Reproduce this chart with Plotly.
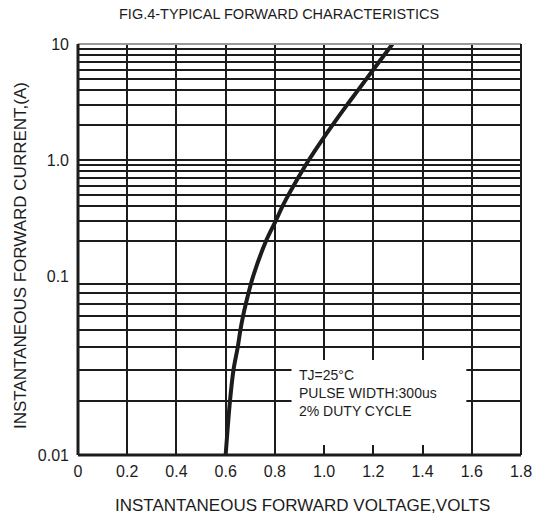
import plotly.graph_objects as go

# ---- data ----
voltage = [0.600, 0.6175, 0.632, 0.649, 0.660, 0.671, 0.682, 0.712,
           0.764, 0.804, 0.831, 0.855, 0.876, 0.894, 0.938, 0.993,
           1.034, 1.094, 1.138, 1.172, 1.223, 1.278]
current = [0.01, 0.02, 0.03, 0.04, 0.05, 0.06, 0.07, 0.10,
           0.20, 0.30, 0.40, 0.50, 0.60, 0.70, 1.00, 1.50,
           2.00, 3.00, 4.00, 5.00, 7.00, 10.0]

x_ticks = [0, 0.2, 0.4, 0.6, 0.8, 1.0, 1.2, 1.4, 1.6, 1.8]
x_tick_labels = ["0", "0.2", "0.4", "0.6", "0.8", "1.0", "1.2", "1.4", "1.6", "1.8"]

low_grid = [0.01, 0.02, 0.03, 0.04, 0.05, 0.06, 0.07, 0.08, 0.09, 0.1]
low_labels = ["0.01", "", "", "", "", "", "", "", "", "0.1"]
high_grid = [0.1, 0.2, 0.3, 0.4, 0.5, 0.6, 0.7, 0.8, 0.9,
             1, 2, 3, 4, 5, 6, 7, 8, 9, 10]
high_labels = ["", "", "", "", "", "", "", "", "",
               "1.0", "", "", "", "", "", "", "", "", "10"]

title_text = "FIG.4-TYPICAL FORWARD CHARACTERISTICS"
x_title = "INSTANTANEOUS FORWARD VOLTAGE,VOLTS"
y_title = "INSTANTANEOUS FORWARD CURRENT,(A)"
note_text = "TJ=25°C<br>PULSE WIDTH:300us<br>2% DUTY CYCLE"

FONT = "Liberation Sans, Arial, sans-serif"
INK = "#1c1c1c"

# The chart's lowest decade is drawn taller than the two above it, so the curve
# is split over two stacked log axes. Each part also carries the neighbouring
# point across the 0.1 A seam, re-expressed in its own axis scale (and clipped
# away), so the two spline pieces meet with the same tangent.
split = 179 / 411                      # share of height for the 0.01-0.1 decade
ratio = ((1 - split) / 2) / split      # upper-decade height / lower-decade height
seam = 0.1

lo_idx = [k for k, i in enumerate(current) if i <= seam]
hi_idx = [k for k, i in enumerate(current) if i >= seam]
nxt, prv = hi_idx[1], lo_idx[-2]
lower_v = [voltage[k] for k in lo_idx] + [voltage[nxt]]
lower_i = [current[k] for k in lo_idx] + [seam * (current[nxt] / seam) ** ratio]
upper_v = [voltage[prv]] + [voltage[k] for k in hi_idx]
upper_i = [seam * (current[prv] / seam) ** (1 / ratio)] + [current[k] for k in hi_idx]

fig = go.Figure()
fig.add_trace(go.Scatter(x=lower_v, y=lower_i, mode="lines", xaxis="x", yaxis="y2",
                         line=dict(color=INK, width=4, shape="spline", smoothing=1.0),
                         showlegend=False, hoverinfo="skip"))
fig.add_trace(go.Scatter(x=upper_v, y=upper_i, mode="lines", xaxis="x", yaxis="y",
                         line=dict(color=INK, width=4, shape="spline", smoothing=1.0),
                         showlegend=False, hoverinfo="skip"))

fig.update_layout(
    width=547, height=517,
    margin=dict(l=78, r=26, t=44, b=62),
    paper_bgcolor="white", plot_bgcolor="white",
    font=dict(family=FONT, color=INK),
    showlegend=False,
    xaxis=dict(range=[0, 1.8], tickvals=x_ticks, ticktext=x_tick_labels,
               showgrid=True, gridcolor=INK, gridwidth=2, zeroline=False,
               showline=False, ticks="", anchor="y2",
               tickfont=dict(size=16, family=FONT, color=INK),
               ticklabelstandoff=5),
    yaxis=dict(type="log", range=[-1, 1], domain=[split, 1], anchor="x",
               tickvals=high_grid, ticktext=high_labels,
               showgrid=True, gridcolor=INK, gridwidth=2, zeroline=False,
               showline=False, ticks="",
               tickfont=dict(size=16, family=FONT, color=INK),
               ticklabelstandoff=8),
    yaxis2=dict(type="log", range=[-2, -1], domain=[0, split], anchor="x",
                tickvals=low_grid, ticktext=low_labels,
                showgrid=True, gridcolor=INK, gridwidth=2, zeroline=False,
                showline=False, ticks="",
                tickfont=dict(size=16, family=FONT, color=INK),
                ticklabelstandoff=8),
)

# white box behind the note
fig.add_shape(type="rect", xref="x", yref="paper", x0=0.8675, x1=1.578,
              y0=10 / 411, y1=95 / 411, fillcolor="white", line=dict(width=0),
              layer="above")
# frame
fig.add_shape(type="line", xref="paper", yref="paper", x0=0, x1=1, y0=1, y1=1,
              line=dict(color="#9a9a9a", width=2))
fig.add_shape(type="line", xref="paper", yref="paper", x0=0, x1=0, y0=0, y1=1,
              line=dict(color=INK, width=3))
fig.add_shape(type="line", xref="paper", yref="paper", x0=0, x1=1, y0=0, y1=0,
              line=dict(color=INK, width=3))
fig.add_shape(type="line", xref="paper", yref="paper", x0=1, x1=1, y0=0, y1=1,
              line=dict(color=INK, width=2))

fig.add_annotation(text=note_text, xref="x", yref="paper", x=0.888, y=62 / 411,
                   xanchor="left", yanchor="middle", align="left", showarrow=False,
                   font=dict(size=14, family=FONT, color=INK))
fig.add_annotation(text=title_text, xref="paper", yref="paper",
                   x=(279 - 78) / 443, y=(455 - 14) / 411,
                   xanchor="center", yanchor="middle", showarrow=False,
                   font=dict(size=14.5, family=FONT, color=INK))
fig.add_annotation(text=x_title, xref="paper", yref="paper",
                   x=(302 - 78) / 443, y=(455 - 505) / 411,
                   xanchor="center", yanchor="middle", showarrow=False,
                   font=dict(size=17, family=FONT, color=INK))
fig.add_annotation(text=y_title, xref="paper", yref="paper",
                   x=(20 - 78) / 443, y=(455 - 256) / 411, textangle=-90,
                   xanchor="center", yanchor="middle", showarrow=False,
                   font=dict(size=17, family=FONT, color=INK))

fig.write_html("out.html", config={"displayModeBar": False},
               post_script="document.body.style.margin='0';"
                           "document.body.style.overflow='hidden';")
